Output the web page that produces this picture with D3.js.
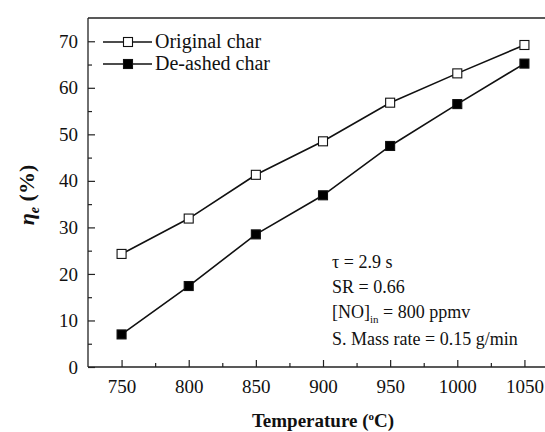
<!DOCTYPE html>
<html>
<head>
<meta charset="utf-8">
<script src="https://cdn.jsdelivr.net/npm/d3@7"></script>
</head>
<body style="margin:0">
<svg id="c" width="545" height="432"></svg>
<script>
const temperatures = [750, 800, 850, 900, 950, 1000, 1050];
const originalChar = [24.3, 31.9, 41.3, 48.5, 56.8, 63.1, 69.2];
const deashedChar = [7.0, 17.4, 28.5, 36.9, 47.5, 56.5, 65.2];
const seriesNames = ["Original char", "De-ashed char"];
const xTicks = [750, 800, 850, 900, 950, 1000, 1050];
const yTicks = [0, 10, 20, 30, 40, 50, 60, 70];
const annotations = ["τ = 2.9 s", "SR = 0.66", "[NO]in = 800 ppmv", "S. Mass rate = 0.15 g/min"];

const FF = "Times New Roman";
const svg = d3.select("#c");
const L = 88, T = 18, B = 367, R = 558;
const x = d3.scaleLinear().domain([725, 1075]).range([L, R]);
const y = d3.scaleLinear().domain([0, 75]).range([B, T]);

svg.append("line").attr("x1", L).attr("x2", 545).attr("y1", T).attr("y2", T).attr("stroke", "#222").attr("stroke-width", 1.3);

const xAx = svg.append("g").attr("transform", `translate(0,${B})`)
  .call(d3.axisBottom(x).tickValues(xTicks).tickSize(-7).tickPadding(13).tickFormat(d3.format("d")));
svg.append("g").attr("transform", `translate(0,${B})`)
  .call(d3.axisBottom(x).tickValues(d3.range(775, 1075, 50)).tickSize(-4).tickFormat(""))
  .call(g => g.select(".domain").remove());
const yAx = svg.append("g").attr("transform", `translate(${L},0)`)
  .call(d3.axisLeft(y).tickValues(yTicks).tickSize(-7).tickPadding(10).tickFormat(d3.format("d")));
svg.append("g").attr("transform", `translate(${L},0)`)
  .call(d3.axisLeft(y).tickValues(d3.range(5, 75, 10)).tickSize(-4).tickFormat(""))
  .call(g => g.select(".domain").remove());

svg.selectAll("g").attr("font-family", FF).attr("font-size", 19);
svg.selectAll(".domain").attr("stroke", "#222").attr("stroke-width", 1.3);
svg.selectAll(".tick line").attr("stroke", "#222").attr("stroke-width", 1.2);
svg.selectAll(".tick text").attr("font-family", FF).attr("font-size", 19).attr("fill", "#111");
xAx.select(".domain").attr("d", `M${L},0H545`);
yAx.select(".domain").attr("d", `M0,${B}V${T}`);

const series = [
  {name: seriesNames[0], values: originalChar, fill: "#fff"},
  {name: seriesNames[1], values: deashedChar, fill: "#000"}
];
const line = d3.line().x((d, i) => x(temperatures[i])).y(d => y(d));
const ms = 9;
series.forEach(s => {
  svg.append("path").attr("d", line(s.values)).attr("fill", "none").attr("stroke", "#111").attr("stroke-width", 1.6);
  svg.selectAll(null).data(s.values).enter().append("rect")
    .attr("x", (d, i) => x(temperatures[i]) - ms / 2)
    .attr("y", d => y(d) - ms / 2)
    .attr("width", ms).attr("height", ms)
    .attr("fill", s.fill).attr("stroke", "#111").attr("stroke-width", 1.1);
});

series.forEach((s, i) => {
  const ly = 42 + i * 22;
  svg.append("line").attr("x1", 103).attr("x2", 152).attr("y1", ly).attr("y2", ly).attr("stroke", "#111").attr("stroke-width", 1.6);
  svg.append("rect").attr("x", 128 - 4.5).attr("y", ly - 4.5).attr("width", 9).attr("height", 9)
    .attr("fill", s.fill).attr("stroke", "#111").attr("stroke-width", 1.1);
  svg.append("text").attr("x", 155).attr("y", ly + 6).attr("font-family", FF).attr("font-size", 20).attr("fill", "#111").text(s.name);
});

const ax = 332;
const ann = svg.append("g").attr("font-family", FF).attr("font-size", 18).attr("fill", "#111");
ann.append("text").attr("x", ax).attr("y", 268).attr("font-family", FF).text(annotations[0]);
ann.append("text").attr("x", ax).attr("y", 293).attr("font-family", FF).text(annotations[1]);
const t3 = ann.append("text").attr("x", ax).attr("y", 318).attr("font-family", FF);
t3.append("tspan").text("[NO]");
t3.append("tspan").attr("dy", 5).attr("font-size", 11).text("in");
t3.append("tspan").attr("dy", -5).text(" = 800 ppmv");
ann.append("text").attr("x", ax).attr("y", 345).attr("font-family", FF).text(annotations[3]);

const xt = svg.append("text").attr("x", 323).attr("y", 427).attr("text-anchor", "middle")
  .attr("font-family", FF).attr("font-size", 19).attr("font-weight", "bold").attr("fill", "#111");
xt.append("tspan").text("Temperature (");
xt.append("tspan").attr("dy", -7).attr("font-size", 11).text("o");
xt.append("tspan").attr("dy", 7).text("C)");

const yt = svg.append("text").attr("transform", "translate(34,195) rotate(-90)").attr("text-anchor", "middle")
  .attr("font-family", FF).attr("font-size", 22).attr("font-weight", "bold").attr("fill", "#111");
yt.append("tspan").attr("font-style", "italic").text("η");
yt.append("tspan").attr("dy", 5).attr("font-size", 14).attr("font-style", "italic").text("e");
yt.append("tspan").attr("dy", -5).text(" (%)");
</script>
</body>
</html>
